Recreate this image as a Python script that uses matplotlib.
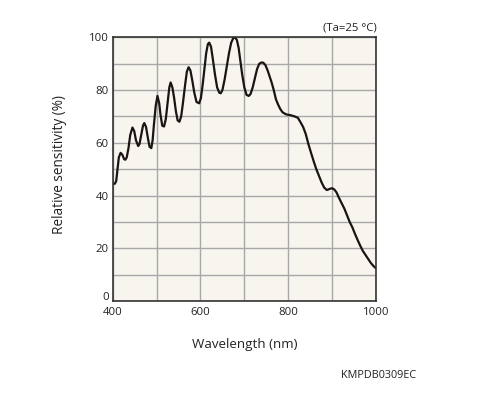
import matplotlib
matplotlib.use("Agg")
import matplotlib.pyplot as plt
import matplotlib.transforms as mtransforms

plt.rcParams["font.family"] = ["Open Sans", "DejaVu Sans"]

wavelength = [400, 405, 408, 411, 414, 418, 422, 426, 429, 432, 436, 440, 445, 449, 453, 458,
              461, 465, 469, 472, 476, 480, 484, 488, 491, 494, 498, 502, 506, 509, 513, 517,
              521, 525, 529, 532, 536, 540, 544, 548, 552, 556, 560, 565, 569, 573, 577, 581,
              586, 591, 597, 601, 605, 609, 613, 617, 620, 624, 628, 633, 638, 643, 646, 650,
              655, 660, 665, 670, 675, 679, 683, 687, 691, 695, 700, 705, 710, 714, 719, 724,
              729, 734, 739, 743, 748, 753, 758, 762, 767, 772, 777, 782, 787, 795, 805, 815,
              822, 828, 834, 840, 846, 852, 858, 864, 870, 876, 882, 888, 894, 900, 905, 910,
              916, 922, 928, 934, 940, 946, 952, 958, 964, 970, 976, 982, 988, 994, 1000]
sensitivity = [44.5, 44.5, 45.5, 50, 54.5, 56.2, 55.5, 53.8, 53.6, 54.5, 58, 63, 65.8, 64.5, 61, 58.8,
               59.5, 63, 66.5, 67.5, 66, 62, 58.5, 58, 61, 67, 74, 77.8, 75, 70.5, 66.5, 66.2,
               69, 75, 81, 82.9, 81, 77, 72, 68.5, 68, 70, 75, 82, 87, 88.7, 87.5, 84,
               79, 75.5, 75, 77, 82, 88, 94, 97.5, 98, 96.5, 92, 86, 81, 79, 78.8, 80,
               84, 89, 94, 98, 99.8, 100, 99, 96, 91, 86, 81, 78.2, 77.8, 78.5, 81, 84.5,
               88, 90, 90.5, 90.4, 89.5, 87.5, 85, 83, 80, 76.5, 74.5, 72.8, 71.6, 70.8, 70.5, 70,
               69.5, 67.8, 66, 63.3, 59.5, 56.2, 53, 50, 47.5, 45, 43, 42.1, 42.5, 42.8, 42.3, 41.2,
               39, 37, 35, 32.5, 30, 28, 25.5, 23.2, 21, 19, 17.5, 16, 14.5, 13.3, 12.4]

x_ticks = [400, 600, 800, 1000]
y_ticks = [0, 20, 40, 60, 80, 100]

fig = plt.figure(figsize=(5.02, 3.97), dpi=100)
ax = fig.add_axes([0.2245, 0.2418, 0.5245, 0.664])
ax.set_facecolor("#f7f5ee")

ax.set_xlim(400, 1000)
ax.set_ylim(0, 100)
ax.set_xticks(range(400, 1001, 100))
ax.set_yticks(range(0, 101, 10))
ax.grid(True, color="#a8a8a8", linewidth=1.0)
ax.set_axisbelow(True)
ax.set_xticklabels([str(v) if v in x_ticks else "" for v in range(400, 1001, 100)])
ax.set_yticklabels([str(v) if v in y_ticks else "" for v in range(0, 101, 10)])
ax.tick_params(length=0, labelsize=8.2, colors="#222222", pad=3)
ax.tick_params(axis="x", pad=4)
for s in ax.spines.values():
    s.set_color("#333333")
    s.set_linewidth(1.2)

# nudge the "0" label up so it clears the "400" label, as in the reference
zero_label = ax.get_yticklabels()[0]
zero_label.set_transform(zero_label.get_transform() +
                         mtransforms.ScaledTranslation(0, 3.5 / 72, fig.dpi_scale_trans))

ax.plot(wavelength, sensitivity, color="#1a1414", linewidth=1.6, solid_capstyle="round",
        solid_joinstyle="round")

fig.text(0.751, 0.930, "(Ta=25 °C)", ha="right", va="center", fontsize=8.2, color="#222222")
fig.text(0.119, 0.585, "Relative sensitivity (%)", rotation=90, ha="center", va="center",
         fontsize=9.8, color="#222222")
fig.text(0.487, 0.133, "Wavelength (nm)", ha="center", va="center", fontsize=9.6, color="#222222")
fig.text(0.755, 0.053, "KMPDB0309EC", ha="center", va="center", fontsize=7.8, color="#222222")

fig.savefig("out.png", dpi=100)
